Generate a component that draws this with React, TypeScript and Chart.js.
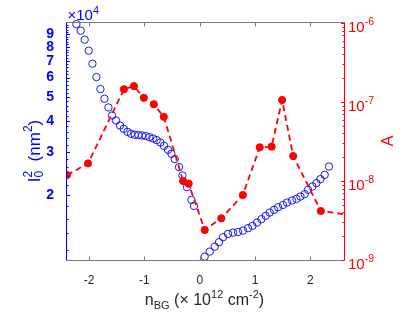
import React, { useEffect, useRef } from 'react';
import { Chart, registerables } from 'chart.js';
Chart.register(...registerables);

// ---- data ----
const BLUE_X = [
  -2.230, -2.152, -2.080, -2.008, -1.940, -1.868, -1.796, -1.723, -1.651, -1.586,
  -1.514, -1.441, -1.374, -1.307, -1.242, -1.175, -1.108, -1.043, -0.976, -0.910,
  -0.844, -0.778, -0.711, -0.646, -0.573, -0.512, -0.452, -0.374, -0.313, -0.230,
  -0.150, -0.103,
  0.090, 0.181, 0.271, 0.349, 0.421, 0.512, 0.602, 0.693, 0.783, 0.873,
  0.953, 1.036, 1.116, 1.193, 1.266, 1.344, 1.416, 1.506, 1.579, 1.669,
  1.749, 1.821, 1.899, 1.958, 2.038, 2.110, 2.183, 2.260, 2.338,
];
const BLUE_Y = [
  99000, 93050, 85540, 77180, 68330, 60320, 53900, 49240, 45390, 42110,
  40190, 38340, 37180, 36150, 35480, 35150, 35050, 34920, 34730, 34400,
  33950, 33450, 32700, 31710, 30550, 29430, 28010, 25980, 24020, 21540,
  19120, 18080,
  11250, 11790, 12350, 12880, 13490, 13910, 14080, 14170, 14350, 14680,
  15000, 15470, 15970, 16470, 16990, 17420, 17860, 18250, 18650, 19010,
  19310, 19730, 20180, 21010, 21680, 22370, 23220, 24170, 26130,
];
const RED_X = [-2.4, -2.02, -1.37, -1.19, -1.01, -0.83, -0.65, -0.30, -0.20, 0.09, 0.39, 0.78, 1.085, 1.30, 1.49, 1.69, 2.19, 2.75];
const RED_Y = [1.19e-8, 1.67e-8, 1.45e-7, 1.59e-7, 1.13e-7, 9.35e-8, 6.5e-8, 1.0e-8, 9.25e-9, 2.4e-9, 3.37e-9, 6.65e-9, 2.67e-8, 2.72e-8, 1.06e-7, 2.07e-8, 4.17e-9, 3.69e-9];

const X_TICKS = [-2, -1, 0, 1, 2];
const LEFT_TICKS = [20000, 30000, 40000, 50000, 60000, 70000, 80000, 90000];
const LEFT_TICK_LABELS = ['2', '3', '4', '5', '6', '7', '8', '9'];
const LEFT_MINOR_MANTISSA = [1.2, 1.4, 1.6, 1.8, 2.2, 2.4, 2.6, 2.8, 3.2, 3.4, 3.6, 3.8, 4.2, 4.4, 4.6, 4.8, 5.2, 5.4, 5.6, 5.8, 6.2, 6.4, 6.6, 6.8, 7.2, 7.4, 7.6, 7.8, 8.2, 8.4, 8.6, 8.8, 9.2, 9.4, 9.6, 9.8];
const RIGHT_TICKS = [1e-9, 1e-8, 1e-7, 1e-6];
const RIGHT_TICK_EXP = ['-9', '-8', '-7', '-6'];
const RIGHT_MINOR_MANTISSA = [2, 3, 4, 5, 6, 7, 8, 9];
const RIGHT_MINOR_DECADES = [1e-9, 1e-8, 1e-7];

const BLUE = '#0000ff';
const RED = '#ff0000';
const GRAY = '#7a7a7a';
const DARK = '#262626';
const F = '"Liberation Sans", Arial, Helvetica, sans-serif';

type Part = { t: string; s: number; dy?: number; stack?: boolean; b?: boolean };

function rich(ctx: CanvasRenderingContext2D, parts: Part[], x: number, y: number, align: 'left' | 'center') {
  const fnt = (p: Part) => `${p.b ? 'bold ' : ''}${p.s}px ${F}`;
  const w = parts.map((p) => {
    ctx.font = fnt(p);
    return ctx.measureText(p.t).width;
  });
  let total = 0;
  for (let i = 0; i < parts.length; ) {
    if (parts[i].stack && i + 1 < parts.length) {
      total += Math.max(w[i], w[i + 1]);
      i += 2;
    } else {
      total += w[i];
      i++;
    }
  }
  let cx = align === 'center' ? x - total / 2 : x;
  ctx.textAlign = 'left';
  ctx.textBaseline = 'alphabetic';
  for (let i = 0; i < parts.length; ) {
    const p = parts[i];
    ctx.font = fnt(p);
    ctx.fillText(p.t, cx, y + (p.dy || 0));
    if (p.stack && i + 1 < parts.length) {
      const q = parts[i + 1];
      ctx.font = fnt(q);
      ctx.fillText(q.t, cx, y + (q.dy || 0));
      cx += Math.max(w[i], w[i + 1]);
      i += 2;
    } else {
      cx += w[i];
      i++;
    }
  }
}

function seg(ctx: CanvasRenderingContext2D, x1: number, y1: number, x2: number, y2: number) {
  ctx.beginPath();
  ctx.moveTo(x1, y1);
  ctx.lineTo(x2, y2);
  ctx.stroke();
}

const decorPlugin = {
  id: 'decor',
  afterDraw(chart: any) {
    const ctx: CanvasRenderingContext2D = chart.ctx;
    const { left, right, top, bottom } = chart.chartArea;
    const xs = chart.scales.x;
    const yl = chart.scales.y;
    const yr = chart.scales.y2;
    const L = Math.round(left) - 0.5;
    const R = Math.round(right) + 0.5;
    const T = Math.round(top) - 0.5;
    const B = Math.round(bottom) + 0.5;
    ctx.save();
    ctx.lineWidth = 1;
    // box
    ctx.strokeStyle = GRAY;
    seg(ctx, L, T, R, T);
    seg(ctx, L, B, R, B);
    ctx.strokeStyle = BLUE;
    seg(ctx, L, T, L, B);
    ctx.strokeStyle = RED;
    seg(ctx, R, T, R, B);
    // x ticks (inward, bottom and top)
    ctx.strokeStyle = GRAY;
    for (const v of X_TICKS) {
      const px = Math.round(xs.getPixelForValue(v)) + 0.5;
      seg(ctx, px, B, px, B - 4);
      seg(ctx, px, T, px, T + 4);
    }
    // left ticks
    ctx.strokeStyle = BLUE;
    for (const v of LEFT_TICKS) {
      const py = Math.round(yl.getPixelForValue(v)) + 0.5;
      seg(ctx, L, py, L + 3.5, py);
    }
    for (const m of LEFT_MINOR_MANTISSA) {
      const py = Math.round(yl.getPixelForValue(m * 1e4)) + 0.5;
      if (py < T || py > B) continue;
      seg(ctx, L, py, L + 2, py);
    }
    // right ticks
    ctx.strokeStyle = RED;
    for (const v of RIGHT_TICKS) {
      const py = Math.round(yr.getPixelForValue(v)) + 0.5;
      seg(ctx, R, py, R - 3.5, py);
    }
    for (const d of RIGHT_MINOR_DECADES) {
      for (const m of RIGHT_MINOR_MANTISSA) {
        const py = Math.round(yr.getPixelForValue(m * d)) + 0.5;
        seg(ctx, R, py, R - 2, py);
      }
    }
    // right tick labels 10^n
    ctx.fillStyle = RED;
    RIGHT_TICKS.forEach((v, i) => {
      const py = yr.getPixelForValue(v);
      rich(ctx, [
        { t: '10', s: 15 },
        { t: RIGHT_TICK_EXP[i], s: 10.5, dy: -7 },
      ], right + 4.5, py + 8.5, 'left');
    });
    // x10^4 multiplier
    ctx.fillStyle = BLUE;
    rich(ctx, [
      { t: '\u00d710', s: 15 },
      { t: '4', s: 11, dy: -6.5 },
    ], left + 0.5, 20, 'left');
    // x title
    ctx.fillStyle = DARK;
    rich(ctx, [
      { t: 'n', s: 16 },
      { t: 'BG', s: 11, dy: 3.5 },
      { t: ' (\u00d7 10', s: 16 },
      { t: '12', s: 11, dy: -7 },
      { t: ' cm', s: 16 },
      { t: '-2', s: 11, dy: -7 },
      { t: ')', s: 16 },
    ], 204.5, 305, 'center');
    // left title (rotated)
    ctx.save();
    ctx.translate(39.5, 151);
    ctx.rotate(-Math.PI / 2);
    ctx.fillStyle = BLUE;
    rich(ctx, [
      { t: 'I', s: 17 },
      { t: '2', s: 12, dy: -7.5, stack: true },
      { t: '0', s: 12, dy: 3.5 },
      { t: '  (nm', s: 17 },
      { t: '2', s: 12, dy: -7.5 },
      { t: ')', s: 17 },
    ], 0, 0, 'center');
    ctx.restore();
    // right title
    ctx.save();
    ctx.translate(393, 141);
    ctx.rotate(-Math.PI / 2);
    ctx.fillStyle = RED;
    rich(ctx, [{ t: 'A', s: 16 }], 0, 0, 'center');
    ctx.restore();
    ctx.restore();
  },
};

export default function App() {
  const ref = useRef<HTMLCanvasElement>(null);
  useEffect(() => {
    document.body.style.margin = '0';
    const canvas = ref.current!;
    const chart = new Chart(canvas, {
      type: 'scatter',
      data: {
        datasets: [
          {
            label: 'A',
            data: RED_X.map((x, i) => ({ x, y: RED_Y[i] })),
            yAxisID: 'y2',
            showLine: true,
            borderColor: RED,
            borderWidth: 1.8,
            borderDash: [6, 4],
            pointRadius: 3.6,
            pointBackgroundColor: RED,
            pointBorderColor: RED,
            pointBorderWidth: 1,
          },
          {
            label: 'I0^2',
            data: BLUE_X.map((x, i) => ({ x, y: BLUE_Y[i] })),
            yAxisID: 'y',
            showLine: false,
            pointRadius: 3.7,
            pointBackgroundColor: 'rgba(0,0,0,0)',
            pointBorderColor: BLUE,
            pointBorderWidth: 0.9,
            clip: 5,
          },
        ],
      },
      options: {
        animation: false,
        responsive: false,
        devicePixelRatio: 1,
        layout: { padding: { top: 23, left: 0, right: 0, bottom: 0 } },
        plugins: { legend: { display: false }, tooltip: { enabled: false } },
        scales: {
          x: {
            type: 'linear',
            min: -2.4,
            max: 2.6,
            grid: { display: false },
            border: { display: false },
            afterBuildTicks: (s: any) => {
              s.ticks = X_TICKS.map((v) => ({ value: v }));
            },
            afterFit: (s: any) => {
              s.height = 56;
            },
            ticks: {
              autoSkip: false,
              maxRotation: 0,
              padding: 5,
              color: DARK,
              font: { family: F, size: 12 },
              callback: (v: any) => String(v),
            },
          },
          y: {
            type: 'logarithmic',
            position: 'left',
            min: 10900,
            max: 100000,
            grid: { display: false },
            border: { display: false },
            afterBuildTicks: (s: any) => {
              s.ticks = LEFT_TICKS.map((v) => ({ value: v }));
            },
            afterFit: (s: any) => {
              s.width = 67;
            },
            ticks: {
              autoSkip: false,
              padding: 5,
              color: BLUE,
              font: { family: F, size: 14, weight: 'bold' },
              callback: (v: any) => {
                const i = LEFT_TICKS.indexOf(Number(v));
                return i >= 0 ? LEFT_TICK_LABELS[i] : '';
              },
            },
          },
          y2: {
            type: 'logarithmic',
            position: 'right',
            min: 1e-9,
            max: 1e-6,
            grid: { display: false },
            border: { display: false },
            ticks: { display: false },
            afterFit: (s: any) => {
              s.width = 71.5;
            },
          },
        },
      },
      plugins: [decorPlugin],
    } as any);
    return () => chart.destroy();
  }, []);
  return (
    <div style={{ position: 'absolute', left: 0, top: 0, width: 415, height: 316, background: '#fff' }}>
      <canvas ref={ref} width={415} height={316} style={{ width: 415, height: 316, display: 'block' }} />
    </div>
  );
}
